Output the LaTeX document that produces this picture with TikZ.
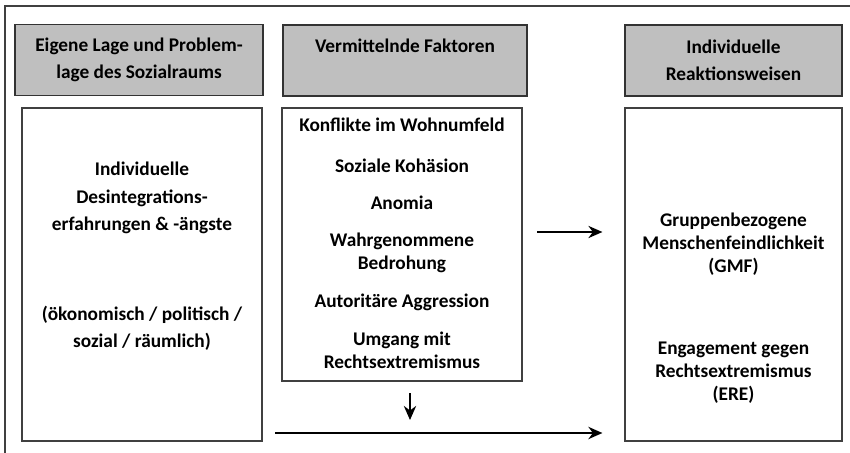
\documentclass[tikz,border=0pt]{standalone}
\usepackage{fontspec}
\setmainfont{Carlito}
\usetikzlibrary{arrows.meta, positioning}

\begin{document}
\begin{tikzpicture}[
      x=0.02cm, y=-0.02cm,
      head/.style={rectangle, draw=black!80, fill=black!25, line width=0.8pt, minimum height=1.42cm, inner sep=0pt, align=center, font=\bfseries\fontsize{11}{15.5}\selectfont},
      box/.style={rectangle, draw=black!75, line width=0.7pt, inner sep=0pt},
      wide/.style={align=center, inner sep=0pt, font=\bfseries\fontsize{11}{15.5}\selectfont},
      tight/.style={align=center, inner sep=0pt, font=\bfseries\fontsize{11}{13}\selectfont},
      arr/.style={-{Stealth[length=8pt, width=7pt]}, line width=1.1pt},
      >=Stealth
    ]
    \useasboundingbox (0,0) rectangle (850,453);

    % Frame
    \draw[black!75, line width=1.1pt] (5,453) -- (5,6) -- (850,6);

    % Headers
    \node[head, minimum width=4.96cm] (h_lage) at (139,60) {Eigene Lage und Problem-\\lage des Sozialraums};
    \node[head, minimum width=4.88cm] (h_faktor) at (405,60.5) {Vermittelnde Faktoren\\\phantom{g}};
    \node[head, minimum width=4.34cm] (h_reakt) at (733.5,60.5) {Individuelle\\Reaktionsweisen};

    % Boxes
    \node[box, minimum width=4.8cm, minimum height=6.66cm] (lage) at (142,274.5) {};
    \node[box, minimum width=4.8cm, minimum height=5.46cm] (faktor) at (402,244.5) {};
    \node[box, minimum width=4.34cm, minimum height=6.66cm] (reakt) at (733.5,274.5) {};

    % Lage
    \node[wide] (desint) at (142,198) {Individuelle\\Desintegrations-\\erfahrungen \& -ängste};
    \node[wide] (dimens) at (142,328) {(ökonomisch / politisch /\\sozial / räumlich)};

    % Faktoren
    \node[tight] (konfl) at (402,125) {Konflikte im Wohnumfeld};
    \node[tight] (kohaes) at (402,166) {Soziale Kohäsion};
    \node[tight] (anomia) at (402,203) {Anomia};
    \node[tight] (bedroh) at (402,252.5) {Wahrgenommene\\Bedrohung};
    \node[tight] (autor) at (402,302) {Autoritäre Aggression};
    \node[tight] (umgang) at (402,350.5) {Umgang mit\\Rechtsextremismus};

    % Reaktionen
    \node[tight] (gmf) at (733.5,244.5) {Gruppenbezogene\\Menschenfeindlichkeit\\(GMF)};
    \node[tight] (ere) at (733.5,372.5) {Engagement gegen\\Rechtsextremismus\\(ERE)};

    % Connections
    \coordinate (mid_start) at (537,232);
    \coordinate (down_start) at (410,393);
    \coordinate (low_start) at (275,433);
    \draw[arr, line width=0.8pt] (mid_start) -- ([xshift=-0.44cm]mid_start -| reakt.west);
    \draw[arr] (down_start) -- ++(0,27);
    \draw[arr] (low_start) -- ([xshift=-0.44cm]low_start -| reakt.west);

    \end{tikzpicture}
\end{document}
